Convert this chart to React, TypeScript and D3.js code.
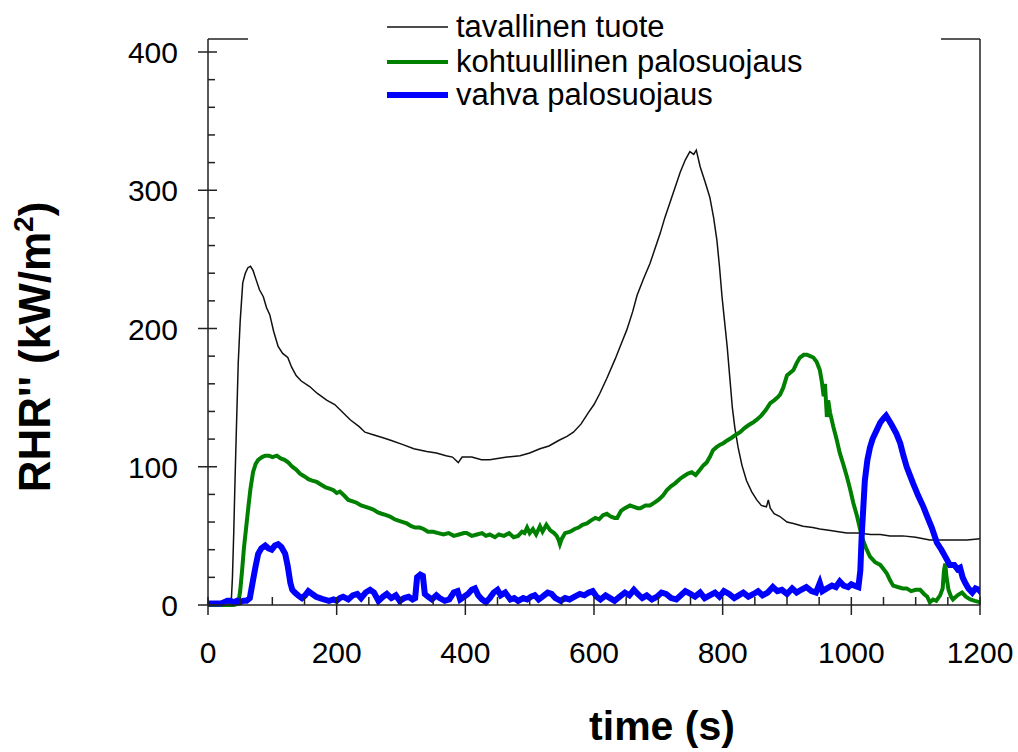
import React from "react";
import * as d3 from "d3";

// ---- data ----
const seriesNames = ["tavallinen tuote", "kohtuulllinen palosuojaus", "vahva palosuojaus"];

const blackT = [0,10,20,30,36,38,40,42,44,47,50,54,58,62,66,70,75,80,86,91,96,102,109,116,124,130,137,145,158,170,185,197,210,221,235,244,258,272,285,303,320,340,355,370,380,389,395,410,425,438,450,465,485,500,516,530,545,558,568,580,591,600,609,620,633,645,651,660,667,677,687,695,703,710,718,726,734,742,749,755,759,765,772,780,786,791,795,799,803,807,811,815,819,824,830,837,845,853,860,868,871,874,880,889,900,910,925,940,951,965,980,993,1010,1030,1045,1060,1080,1100,1122,1135,1148,1165,1180,1200];
const blackV = [0,0,0,0.5,1,20,52,90,125,175,205,233,240,244,245,242,235,228,223,215,210,198,187,182,179,172,166,162,158,153,148,145,139,134,129,125,123,121,119,116,113,111,110,108,107,103,107,107,105,105,106,107,108,110,113,115,119,122,125,131,139,145,153,164,178,192,199,212,224,236,247,258,269,280,291,302,313,322,328,326,329,317,307,295,280,264,245,223,205,187,165,143,128,114,101,90,82,76,72,71,76,70,66,64,60,59,57,56,55,54,53,52,52,51,51,50,50,49,47,47,47,47,47,48];

const greenT = [0,20,40,47,50,53,56,60,63,66,70,74,78,84,89,95,100,107,113,119,125,131,137,143,150,156,162,169,176,183,190,195,200,205,212,218,225,231,238,245,251,257,264,270,277,283,290,296,303,309,316,322,329,335,342,350,358,366,374,382,390,398,402,410,418,426,432,438,446,452,460,468,475,482,488,492,496,500,505,510,516,520,526,532,538,542,545,547,550,555,563,570,576,582,589,595,602,608,614,620,626,632,636,642,648,656,662,668,672,680,687,694,700,707,713,720,726,733,739,746,752,758,765,770,775,780,785,790,796,801,807,814,820,827,834,840,847,853,860,867,874,880,885,889,894,900,905,910,915,920,926,931,936,941,946,951,954,957,959,962,964,967,970,972,977,982,988,993,998,1003,1009,1014,1018,1023,1029,1037,1045,1050,1055,1060,1065,1072,1080,1086,1093,1100,1107,1113,1118,1122,1127,1132,1138,1142,1144,1146,1148,1151,1155,1158,1165,1172,1178,1185,1192,1200];
const greenV = [0,0,0,1,10,25,42,59,72,84,96,102,105,107,108,108,107,108,106,105,103,100,98,95,93,91,90,89,87,85,84,83,81,82,79,76,75,74,72,71,70,69,67,66,65,64,62,61,60,59,57,56,56,55,53,53,52,51,52,50,51,52,52,50,51,52,50,51,49,51,50,52,49,50,53,52,56,52,55,51,57,53,58,54,52,50,47,44,48,52,53,55,56,58,59,61,63,62,65,66,64,63,63,68,70,72,71,70,70,72,72,74,76,79,83,86,88,91,93,95,96,94,98,101,103,107,112,114,116,117,119,121,123,125,128,130,132,134,137,141,146,148,150,152,157,166,168,170,175,179,181,181,180,179,176,170,162,151,160,136,148,139,133,129,120,110,101,93,84,74,64,54,47,41,35,31,29,26,23,18,14,13,12,12,10,11,11,8,6,2,4,3,7,12,25,30,20,11,6,4,7,9,6,4,3,2];

const blueT = [0,10,20,25,30,35,40,45,50,55,60,65,70,74,78,83,89,94,99,104,109,114,120,124,128,131,135,140,146,151,156,162,168,174,180,188,195,200,205,210,218,225,232,238,245,252,258,265,272,278,285,292,298,305,312,318,322,325,330,334,337,342,348,355,360,368,375,382,388,392,398,404,410,415,420,426,432,438,444,450,455,462,470,476,482,490,496,502,508,514,520,528,534,540,548,555,562,570,578,585,592,598,604,610,618,625,632,640,648,655,662,668,675,682,690,698,705,712,720,728,735,742,750,757,765,772,780,788,795,802,810,818,825,832,840,848,855,862,870,878,885,892,900,908,915,922,930,938,945,951,955,962,970,976,982,988,995,1000,1005,1011,1014,1016,1021,1025,1029,1033,1037,1041,1045,1050,1054,1058,1063,1070,1076,1081,1086,1091,1096,1104,1112,1118,1125,1133,1140,1146,1153,1160,1165,1169,1173,1177,1182,1188,1193,1198,1200];
const blueV = [1,1,1,2,3,3,2,3,2,3,3,5,18,28,37,41,43,41,40,43,44,42,37,28,16,11,9,7,5,7,10,8,6,5,4,3,4,3,5,6,4,7,8,5,9,11,9,3,6,8,5,7,3,5,6,4,5,20,22,21,8,6,4,7,5,3,4,9,10,4,6,8,11,12,7,4,2,5,9,11,7,9,4,5,3,5,4,6,7,4,6,9,8,5,3,5,4,6,8,7,9,10,6,4,7,5,3,6,9,7,11,8,5,7,4,6,9,8,5,4,7,10,8,6,9,5,7,9,6,10,8,5,7,9,6,8,10,7,9,13,10,11,8,12,9,11,13,10,9,16,10,12,14,13,17,14,13,15,14,13,25,49,90,105,114,120,124,128,132,135,137,134,130,124,117,108,100,94,88,79,71,64,56,45,40,35,29,29,26,27,20,16,12,9,12,11,10];

const xTickLabels = [0, 200, 400, 600, 800, 1000, 1200];
const yTickLabels = [0, 100, 200, 300, 400];

const W = 1018;
const H = 752;
const FONT = "'Liberation Sans', Arial, sans-serif";

export default function App() {
  const x = d3.scaleLinear().domain([0, 1200]).range([208, 980]);
  const y = d3.scaleLinear().domain([0, 400]).range([605, 52]);
  const frameTop = 39;

  const mk = (ts: number[], vs: number[]) =>
    d3.line<number>().x((_, i) => x(ts[i])).y((_, i) => y(vs[i]))(ts) || "";

  const series = [
    { name: seriesNames[0], d: mk(blackT, blackV), color: "#111", w: 1.5 },
    { name: seriesNames[1], d: mk(greenT, greenV), color: "#008000", w: 4 },
    { name: seriesNames[2], d: mk(blueT, blueV), color: "#0000ff", w: 6 },
  ];

  const xMinor = d3.range(0, 1201, 50).filter((v) => v % 200 !== 0);
  const yMinor = d3.range(0, 401, 20).filter((v) => v % 100 !== 0);
  const axisColor = "#222";

  const legendY = [27, 62, 95];

  return (
    <svg width={W} height={H} style={{ position: "absolute", left: 0, top: 0, background: "#fff" }}>
      <rect x={0} y={0} width={W} height={H} fill="#fff" />
      <defs>
        <clipPath id="plot">
          <rect x={x(0)} y={frameTop} width={x(1200) - x(0)} height={y(0) - frameTop + 4} />
        </clipPath>
      </defs>
      {/* series */}
      <g clipPath="url(#plot)">
        {series.map((s) => (
          <path key={s.name} d={s.d} fill="none" stroke={s.color} strokeWidth={s.w} strokeLinejoin="miter" strokeLinecap="square" />
        ))}
      </g>
      {/* frame */}
      <g stroke={axisColor} strokeWidth={1.5} fill="none">
        <line x1={x(0)} y1={frameTop} x2={x(0)} y2={y(0)} />
        <line x1={x(0)} y1={y(0)} x2={x(1200)} y2={y(0)} />
        <line x1={x(1200)} y1={frameTop} x2={x(1200)} y2={y(0)} />
        <line x1={x(0)} y1={frameTop} x2={x(1200)} y2={frameTop} />
        {xTickLabels.map((v) => (
          <line key={"xM" + v} x1={x(v)} x2={x(v)} y1={y(0) - 8} y2={y(0) + 10} />
        ))}
        {xMinor.map((v) => (
          <line key={"xm" + v} x1={x(v)} x2={x(v)} y1={y(0) - 8} y2={y(0)} />
        ))}
        {yTickLabels.map((v) => (
          <line key={"yM" + v} x1={x(0) - 10} x2={x(0) + 9} y1={y(v)} y2={y(v)} />
        ))}
        {yMinor.map((v) => (
          <line key={"ym" + v} x1={x(0)} x2={x(0) + 7} y1={y(v)} y2={y(v)} />
        ))}
      </g>
      {/* tick labels */}
      <g fontFamily={FONT} fontSize={30} fill="#000">
        {xTickLabels.map((v) => (
          <text key={"xl" + v} x={x(v)} y={663} textAnchor="middle">{v}</text>
        ))}
        {yTickLabels.map((v) => (
          <text key={"yl" + v} x={178} y={y(v) + 11} textAnchor="end">{v}</text>
        ))}
      </g>
      {/* legend */}
      <rect x={248} y={28} width={693} height={90} fill="#fff" />
      <g fontFamily={FONT} fontSize={31} fill="#000">
        {series.map((s, i) => (
          <g key={"lg" + i}>
            <line x1={387} x2={448} y1={legendY[i]} y2={legendY[i]} stroke={s.color} strokeWidth={s.w} />
            <text x={456} y={legendY[i] + 10}>{s.name}</text>
          </g>
        ))}
      </g>
      {/* axis titles */}
      <text x={662} y={740} textAnchor="middle" fontFamily={FONT} fontSize={41} fontWeight="bold">time (s)</text>
      <text transform="translate(50,347) rotate(-90)" textAnchor="middle" fontFamily={FONT} fontSize={44} fontWeight="bold">
        RHR'' (kW/m<tspan fontSize={28} dy={-17}>2</tspan><tspan dy={17}>)</tspan>
      </text>
    </svg>
  );
}
